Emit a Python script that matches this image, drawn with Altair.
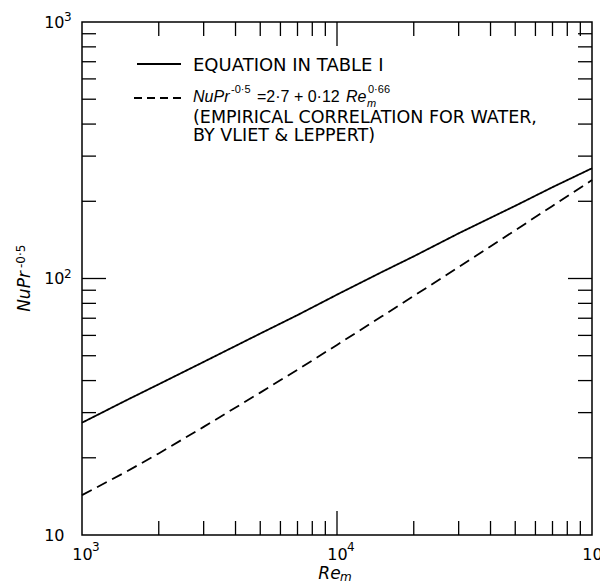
import altair as alt
import pandas as pd

# ---- data ----
re_vals = [1000, 1500, 2000, 3000, 5000, 7000, 10000, 15000, 20000, 30000, 50000, 70000, 100000]
nu_table = [27.4, 33.6, 38.7, 47.3, 61.0, 72.0, 86.5, 106.0, 122.0, 150.0, 192.0, 227.0, 269.0]
nu_vliet = [14.3, 17.7, 20.8, 26.4, 35.9, 44.1, 55.1, 71.2, 85.5, 110.8, 154.2, 191.9, 242.0]

x_minor = [2000, 3000, 4000, 5000, 6000, 7000, 8000, 9000,
           20000, 30000, 40000, 50000, 60000, 70000, 80000, 90000]
x_major = [10000]
y_minor = [20, 30, 40, 50, 60, 70, 80, 90, 200, 300, 400, 500, 600, 700, 800, 900]
y_major = [100]

x_label_vals = [1000, 10000, 100000]
x_label_exp = ["3", "4", "5"]
y_label_vals = [10, 100, 1000]
y_exp_vals = [100, 1000]
y_label_exp = ["2", "3"]

W, H = 510, 513
FONT = "DejaVu Sans"

rows = []
for r, a, b in zip(re_vals, nu_table, nu_vliet):
    rows.append({"Re": r, "Nu": a, "series": "table"})
    rows.append({"Re": r, "Nu": b, "series": "vliet"})
lines_df = pd.DataFrame(rows)

xscale = alt.Scale(type="log", domain=[1000, 100000], nice=False)
yscale = alt.Scale(type="log", domain=[10, 1000], nice=False)

x_axis = alt.Axis(
    values=x_label_vals, labelExpr="'10'",
    ticks=False, tickSize=0, domain=False, grid=False,
    labelFont=FONT, labelFontSize=16, labelColor="black", labelPadding=11,
    labelFlush=False, labelOverlap=False,
    title="Re", titleFont=FONT, titleFontSize=17, titleFontStyle="italic",
    titleFontWeight="normal", titleColor="black", titleAlign="center",
    titleBaseline="alphabetic", titleX=247, titleY=43,
)
y_axis = alt.Axis(
    values=y_label_vals, labelExpr="'10'",
    ticks=False, tickSize=0, domain=False, grid=False,
    labelFont=FONT, labelFontSize=16, labelColor="black", labelPadding=18,
    labelFlush=False, labelOverlap=False,
    title="NuPr", titleFont=FONT, titleFontSize=17, titleFontStyle="italic",
    titleFontWeight="normal", titleColor="black", titleAlign="center",
    titleX=-49, titleY=269,
)

lines = alt.Chart(lines_df).mark_line(color="black", strokeWidth=1.8).encode(
    x=alt.X("Re:Q", scale=xscale, axis=x_axis),
    y=alt.Y("Nu:Q", scale=yscale, axis=y_axis),
    strokeDash=alt.StrokeDash("series:N", scale=alt.Scale(domain=["table", "vliet"],
                                                         range=[[1, 0], [11, 6]]), legend=None),
    detail="series:N",
)

def xticks(vals, length):
    df = pd.DataFrame({"Re": vals})
    bottom = alt.Chart(df).mark_rule(color="black", strokeWidth=1.3).encode(
        x=alt.X("Re:Q", scale=xscale, axis=x_axis),
        y=alt.value(H), y2=alt.value(H - length))
    top = alt.Chart(df).mark_rule(color="black", strokeWidth=1.3).encode(
        x=alt.X("Re:Q", scale=xscale, axis=x_axis),
        y=alt.value(0), y2=alt.value(length))
    return [bottom, top]

def yticks(vals, length):
    df = pd.DataFrame({"Nu": vals})
    left = alt.Chart(df).mark_rule(color="black", strokeWidth=1.3).encode(
        y=alt.Y("Nu:Q", scale=yscale, axis=y_axis),
        x=alt.value(0), x2=alt.value(length))
    right = alt.Chart(df).mark_rule(color="black", strokeWidth=1.3).encode(
        y=alt.Y("Nu:Q", scale=yscale, axis=y_axis),
        x=alt.value(W), x2=alt.value(W - length))
    return [left, right]

# exponents of tick labels, placed through the scales
x_exp = alt.Chart(pd.DataFrame({"Re": x_label_vals, "e": x_label_exp})).mark_text(
    align="left", baseline="top", font=FONT, fontSize=12, color="black", dx=10
).encode(x=alt.X("Re:Q", scale=xscale, axis=x_axis), y=alt.value(H + 7), text="e:N")
y_exp = alt.Chart(pd.DataFrame({"Nu": y_exp_vals, "e": y_label_exp})).mark_text(
    align="left", baseline="alphabetic", font=FONT, fontSize=12, color="black", dy=-1
).encode(y=alt.Y("Nu:Q", scale=yscale, axis=y_axis), x=alt.value(-18), text="e:N")

one = pd.DataFrame({"k": [0]})
OX, OY = 82, 22  # plot origin in page pixels (for annotation placement)

def note(txt, x, y, size=18, style="normal", font=FONT, angle=0):
    kw = dict(align="left", baseline="alphabetic", font=font, fontSize=size,
              fontStyle=style, color="black", text=txt)
    if angle:
        kw["angle"] = angle
    return alt.Chart(one).mark_text(**kw).encode(x=alt.value(x - OX), y=alt.value(y - OY))

annotations = [
    note("-0·5", 25, 268, 12, "normal", FONT, 270),   # y-title exponent
    note("m", 340, 581, 12, "italic", FONT),          # x-title subscript
]

legend = [
    alt.Chart(one).mark_rule(color="black", strokeWidth=1.8).encode(
        x=alt.value(137 - OX), x2=alt.value(181 - OX), y=alt.value(64 - OY)),
    alt.Chart(one).mark_rule(color="black", strokeWidth=1.8, strokeDash=[8, 5]).encode(
        x=alt.value(134 - OX), x2=alt.value(181 - OX), y=alt.value(98 - OY)),
    note("EQUATION IN TABLE I", 193, 71),
    note("NuPr", 193, 102, 16, "italic", "Liberation Sans"),
    note("-0·5", 231, 93, 11, "normal", "Liberation Sans"),
    note("=2·7 + 0·12", 257, 102, 16, "normal", "Liberation Sans"),
    note("Re", 346, 102, 16, "italic", "Liberation Sans"),
    note("0·66", 368, 93, 11, "normal", "Liberation Sans"),
    note("m", 367, 107, 11, "italic", "Liberation Sans"),
    note("(EMPIRICAL CORRELATION FOR WATER,", 193, 123, 17.5),
    note("BY VLIET & LEPPERT)", 193, 141, 17.5),
]

layers = ([lines] + xticks(x_minor, 14) + xticks(x_major, 24) + yticks(y_minor, 14)
          + yticks(y_major, 24) + [x_exp, y_exp] + annotations + legend)

chart = alt.layer(*layers).properties(
    width=W, height=H,
    autosize=alt.AutoSizeParams(type="none"),
    padding={"left": OX, "top": OY, "right": 600 - OX - W, "bottom": 585 - OY - H},
    background="white",
).configure_view(stroke="black", strokeWidth=1.5)

chart.save("out.html", embed_options={"renderer": "svg", "actions": False})
